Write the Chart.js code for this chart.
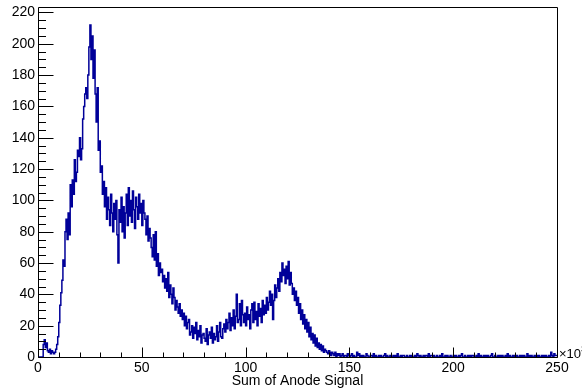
<!DOCTYPE html>
<html lang="en">
<head>
<meta charset="UTF-8">
<title>Sum of Anode Signal</title>
<script src="https://cdn.jsdelivr.net/npm/chart.js"></script>
<style>
  html, body { margin: 0; padding: 0; background: #fff; }
</style>
</head>
<body>
<canvas id="hist" width="582" height="392"></canvas>
<script>
// 500 bins of 0.5 over 0..250 (x10^3)
const xMin = 0, xMax = 250, binWidth = 0.5;
const yMin = 0, yMax = 223.5;

const counts0to50 = [
  0, 0, 0, 0, 0, 0, 8, 11, 6, 9, 4, 3, 5, 2, 4, 3, 2, 3, 5, 8,
  13, 22, 33, 41, 49, 62, 58, 80, 88, 75, 92, 78, 110, 96, 113, 104, 126, 112, 118, 132,
  128, 140, 126, 133, 152, 160, 168, 172, 165, 180, 198, 212, 190, 205, 178, 196, 168, 150, 172, 132,
  138, 118, 122, 104, 112, 96, 108, 88, 102, 94, 84, 104, 92, 80, 98, 88, 100, 78, 60, 94,
  86, 102, 80, 96, 76, 92, 104, 84, 108, 90, 100, 86, 106, 94, 82, 102, 96, 88, 104, 92
];
const counts50to100 = [
  98, 84, 100, 92, 88, 78, 90, 74, 82, 76, 70, 64, 78, 62, 80, 58, 66, 52, 60, 54,
  56, 48, 52, 44, 50, 42, 54, 38, 46, 40, 34, 44, 38, 30, 36, 32, 28, 34, 26, 30,
  24, 28, 20, 26, 18, 22, 24, 14, 16, 20, 12, 19, 15, 22, 11, 17, 13, 20, 9, 14,
  15, 12, 10, 18, 8, 14, 16, 12, 19, 9, 15, 11, 13, 20, 10, 16, 22, 13, 12, 18,
  21, 16, 24, 18, 22, 28, 17, 25, 20, 30, 18, 26, 40, 22, 24, 34, 20, 36, 27, 22
];
const counts100to150 = [
  28, 20, 32, 24, 27, 18, 30, 34, 22, 35, 24, 29, 20, 34, 26, 31, 22, 36, 27, 33,
  28, 38, 30, 35, 42, 33, 40, 24, 36, 46, 38, 44, 50, 42, 54, 48, 60, 52, 56, 47,
  58, 50, 61, 46, 54, 47, 40, 44, 36, 42, 33, 38, 28, 34, 24, 30, 21, 27, 18, 24,
  16, 22, 13, 19, 11, 15, 9, 14, 7, 12, 6, 9, 5, 8, 4, 7, 3, 5, 4, 3,
  2, 4, 3, 1, 3, 2, 1, 3, 0, 2, 1, 2, 0, 1, 2, 0, 1, 1, 0, 2
];
const counts150to250 = [
  1, 0, 1, 2, 0, 1, 0, 0, 3, 1, 2, 0, 1, 0, 1, 0, 0, 2, 1, 0,
  0, 1, 1, 0, 2, 0, 1, 0, 0, 1, 0, 1, 0, 0, 1, 2, 0, 1, 0, 0,
  1, 0, 0, 1, 0, 1, 0, 2, 0, 0, 1, 0, 1, 1, 0, 0, 1, 0, 0, 1,
  0, 1, 0, 0, 1, 0, 2, 1, 0, 1, 0, 0, 1, 0, 1, 1, 0, 2, 0, 1,
  1, 0, 1, 0, 0, 1, 0, 0, 1, 0, 2, 0, 0, 1, 0, 1, 0, 0, 1, 0,
  0, 1, 0, 1, 0, 0, 1, 0, 1, 2, 0, 0, 1, 0, 0, 1, 0, 1, 0, 1,
  1, 0, 0, 1, 0, 2, 0, 1, 0, 0, 1, 0, 1, 0, 1, 0, 0, 1, 2, 0,
  0, 1, 0, 0, 1, 0, 1, 0, 1, 0, 0, 1, 0, 2, 0, 1, 0, 0, 1, 0,
  1, 0, 1, 0, 0, 1, 0, 1, 0, 1, 0, 0, 2, 0, 1, 0, 1, 0, 0, 1,
  0, 1, 0, 1, 0, 0, 1, 0, 1, 0, 1, 0, 0, 1, 0, 3, 1, 0, 2, 1
];

const xTickLabels = [0, 50, 100, 150, 200, 250];
const yTickLabels = [0, 20, 40, 60, 80, 100, 120, 140, 160, 180, 200, 220];
const xTitle = 'Sum of Anode Signal';

const counts = [].concat(counts0to50, counts50to100, counts100to150, counts150to250);
// step outline: one point per bin low edge, plus the closing upper edge
const points = counts.map((c, i) => ({ x: xMin + i * binWidth, y: c }));
points.push({ x: xMax, y: counts[counts.length - 1] });

const FONT = '"Liberation Sans", Arial, Helvetica, sans-serif';

// frame box, inward ticks and the x10^3 exponent, drawn over the histogram
const rootFrame = {
  id: 'rootFrame',
  afterDatasetsDraw(chart) {
    const { ctx, chartArea: a, scales: { x, y } } = chart;
    const L = Math.round(a.left) + 0.5, R = Math.round(a.right) + 0.5;
    const T = Math.round(a.top) + 0.5, B = Math.round(a.bottom) + 0.5;
    ctx.save();
    ctx.strokeStyle = '#000';
    ctx.lineWidth = 1;
    ctx.beginPath();
    ctx.rect(L, T, R - L, B - T);
    for (let v = xMin; v <= xMax; v += 10) {
      const px = Math.round(x.getPixelForValue(v)) + 0.5;
      const len = v % 50 === 0 ? 10 : 5;
      ctx.moveTo(px, B);
      ctx.lineTo(px, B - len);
    }
    for (let v = yMin; v <= yMax; v += 5) {
      const py = Math.round(y.getPixelForValue(v)) + 0.5;
      const len = v % 20 === 0 ? 15 : 7.5;
      ctx.moveTo(L, py);
      ctx.lineTo(L + len, py);
    }
    ctx.stroke();

    ctx.fillStyle = '#000';
    ctx.textAlign = 'left';
    ctx.textBaseline = 'alphabetic';
    ctx.font = '13px ' + FONT;
    ctx.fillText('\u00d710', a.right + 2, a.bottom + 0.5);
    const w = ctx.measureText('\u00d710').width;
    ctx.font = '9px ' + FONT;
    ctx.fillText('3', a.right + 2 + w, a.bottom - 5);
    ctx.restore();
  }
};

new Chart(document.getElementById('hist'), {
  type: 'line',
  data: {
    datasets: [{
      data: points,
      borderColor: '#000099',
      borderWidth: 1.5,
      pointRadius: 0,
      stepped: 'after',
      fill: false,
      tension: 0
    }]
  },
  options: {
    responsive: false,
    animation: false,
    devicePixelRatio: 1,
    layout: { padding: { left: 0, right: 25, top: 7, bottom: 0 } },
    plugins: { legend: { display: false }, tooltip: { enabled: false } },
    scales: {
      x: {
        type: 'linear',
        min: xMin,
        max: xMax,
        afterBuildTicks: s => { s.ticks = xTickLabels.map(v => ({ value: v })); },
        afterFit: s => { s.height = 35; s.paddingLeft = 0; s.paddingRight = 0; },
        grid: { display: false, drawTicks: false },
        border: { display: false },
        ticks: {
          autoSkip: false,
          maxRotation: 0,
          padding: 3,
          color: '#000',
          font: { family: FONT, size: 14 }
        },
        title: {
          display: true,
          text: xTitle,
          color: '#000',
          font: { family: FONT, size: 14 },
          padding: { top: 0, bottom: 2 }
        }
      },
      y: {
        min: yMin,
        max: yMax,
        afterBuildTicks: s => { s.ticks = yTickLabels.map(v => ({ value: v })); },
        afterFit: s => { s.width = 38; s.paddingTop = 0; s.paddingBottom = 0; },
        grid: { display: false, drawTicks: false },
        border: { display: false },
        ticks: {
          padding: 3,
          color: '#000',
          font: { family: FONT, size: 14 }
        }
      }
    }
  },
  plugins: [rootFrame]
});
</script>
</body>
</html>
